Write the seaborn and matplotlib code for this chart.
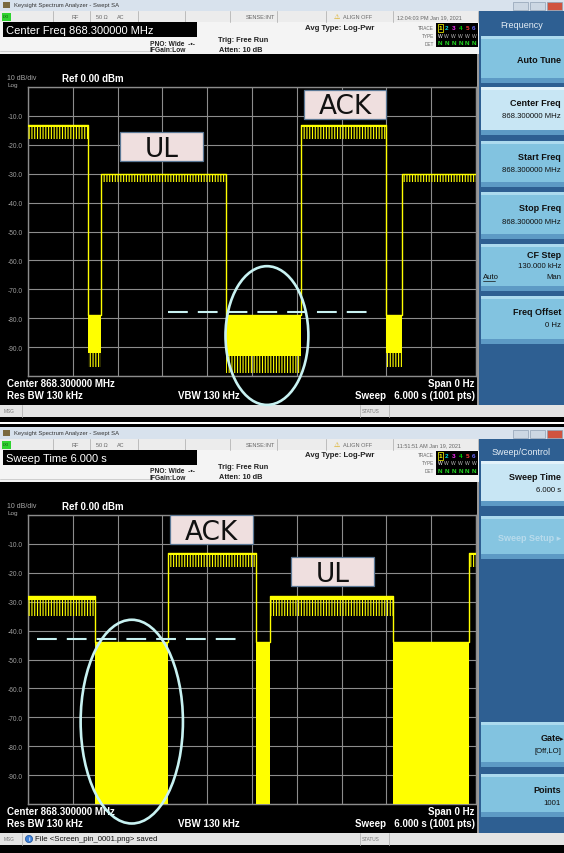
import numpy as np
import pandas as pd
import matplotlib
matplotlib.use("Agg")
import matplotlib.pyplot as plt
import seaborn as sns
from matplotlib.patches import Rectangle, Ellipse, Circle

# Two zero-span captures at 868.3 MHz, 6 s sweep, levels in dBm.
# Per segment: start/end time, top of trace, bottom of dense part, deepest dips
top_edges = [0.0, 0.80, 0.98, 2.65, 3.65, 4.80, 5.01, 6.0]
top_peak = [-13, -79, -30, -79, -13, -79, -30]
top_solid = [-14, -92, -30.5, -93, -14, -92, -30.5]
top_dip = [-18, -97, -33, -99, -18, -97, -33]

bot_edges = [0.0, 0.90, 1.87, 3.05, 3.24, 4.89, 5.90, 6.0]
bot_peak = [-28, -44, -13, -44, -28, -44, -13]
bot_solid = [-29.5, -100, -14, -100, -29.5, -100, -14]
bot_dip = [-35, -100, -18, -100, -35, -100, -18]

# hand drawn markings on the screenshots
top_ref_level = -78
top_ref_span = [1.87, 4.55]
bot_ref_level = -43
bot_ref_span = [0.12, 2.81]
top_circle = [3.20, -86, 1.11, 48]      # centre s, centre dB, width s, height dB
bot_circle = [1.39, -71.5, 1.37, 70.5]
top_tags = [("UL", 1.79, -20.6), ("ACK", 4.245, -5.9)]
bot_tags = [("ACK", 2.46, -5.0), ("UL", 4.08, -19.6)]

db_ticks = list(range(-100, 1, 10))
db_labels = ["" if v in (0, -100) else f"{v:.1f}" for v in db_ticks]
time_ticks = np.linspace(0, 6, 11)

YELLOW = "#ffff00"
MARK = "#c8f2f2"
W, H = 564, 854

sns.set_style("dark")
plt.rcParams["font.family"] = ["Liberation Sans", "DejaVu Sans"]
plt.rcParams["hatch.linewidth"] = 0.8

fig = plt.figure(figsize=(W / 100, H / 100), dpi=100)
fig.patch.set_facecolor("black")
ui = fig.add_axes([0, 0, 1, 1])
ui.set_xlim(0, W)
ui.set_ylim(H, 0)
ui.axis("off")


def rect(x, y, w, h, fc, ec="none", lw=0, z=1):
    ui.add_patch(Rectangle((x, y), w, h, facecolor=fc, edgecolor=ec, linewidth=lw, zorder=z))


def txt(x, y, s, size=5, color="black", ha="left", weight="normal", z=3, **kw):
    ui.text(x, y, s, fontsize=size, color=color, ha=ha, va="center",
            fontweight=weight, zorder=z, **kw)


def vline(x, y1, y2, color="#b4b4b4", lw=0.6):
    ui.plot([x, x], [y1, y2], color=color, lw=lw, zorder=2)


def button(y0, top, bot, title, value, state):
    fc = {"on": "#c8e6f4", "off": "#82c3e0", "dim": "#86c5e1"}[state]
    rect(481, y0 + top, 83, bot - top, fc)
    rect(481, y0 + top, 83, 3, "#e2f2fa" if state == "on" else "#acdaee")
    rect(481, y0 + bot - 5, 83, 5, "#5d9ac5")
    if state == "dim":
        txt(561, y0 + (top + bot) / 2, title, 6.5, "#b8dbec", ha="right", weight="bold")
    elif title == "CF Step":
        txt(561, y0 + top + 11, title, 6.5, "#111111", ha="right", weight="bold")
        txt(561, y0 + top + 22, value, 5.6, "#111111", ha="right")
        txt(483, y0 + top + 33, "Auto", 5.6, "#111111", ha="left")
        ui.plot([483, 495], [y0 + top + 37, y0 + top + 37], color="#111111", lw=0.5, zorder=3)
        txt(561, y0 + top + 33, "Man", 5.6, "#111111", ha="right")
    elif value:
        txt(561, y0 + top + 15.5, title, 6.5, "#111111", ha="right", weight="bold")
        txt(561, y0 + top + 29, value, 5.6, "#111111", ha="right")
    else:
        txt(561, y0 + (top + bot) / 2, title, 6.5, "#111111", ha="right", weight="bold")


def draw_chrome(y0, header, clock, panel_title, menu, message):
    # window title bar
    rect(0, y0, W, 12, "#d8e2ed")
    rect(3, y0 + 3, 7, 6, "#7a6a40")
    txt(14, y0 + 6, "Keysight Spectrum Analyzer - Swept SA", 4.2, "#333333")
    for i, c in enumerate(["#ccd7e3", "#ccd7e3", "#d0533f"]):
        rect(513 + i * 17, y0 + 3, 15, 8, c, ec="#8fa0b4", lw=0.5)
    # status row
    rect(0, y0 + 12, 479, 11, "#ececec")
    for xs in [53, 90, 138, 185, 230, 277, 326, 393, 478]:
        vline(xs, y0 + 12, y0 + 23)
    rect(2, y0 + 13.5, 9, 8, "#2fd32f")
    txt(3, y0 + 17.5, "LXI", 2.8, "#114411")
    for xs, s in [(72, "RF"), (96, "50 Ω"), (117, "AC"), (246, "SENSE:INT"),
                  (343, "ALIGN OFF"), (397, clock)]:
        txt(xs, y0 + 17.5, s, 4, "#666666")
    txt(334, y0 + 17.3, "⚠", 5, "#d9a400", family="DejaVu Sans")
    # settings area
    rect(0, y0 + 23, 479, 32, "#f4f4f4")
    ui.plot([0, 150], [y0 + 52, y0 + 52], color="#c8c8c8", lw=0.6, zorder=2)
    rect(3, y0 + 23, 194, 15, "black", z=2)
    txt(6, y0 + 31, header, 8, "white")
    txt(150, y0 + 44, "PNO: Wide  -•-", 4.8, "#222222", weight="bold")
    txt(150, y0 + 51, "IFGain:Low", 4.8, "#222222", weight="bold")
    txt(218, y0 + 40, "Trig: Free Run", 5.3, "#222222", weight="bold")
    txt(219, y0 + 50, "Atten: 10 dB", 5.3, "#222222", weight="bold")
    txt(305, y0 + 28, "Avg Type: Log-Pwr", 5.6, "#222222", weight="bold")
    for yy, s in [(28, "TRACE"), (36, "TYPE"), (44, "DET")]:
        txt(434, y0 + yy, s, 3.4, "#666666", ha="right")
    rect(436, y0 + 24, 42, 24, "black", z=2)
    colors = ["#ffff00", "#00e0e0", "#ff30ff", "#00d000", "#ff3a3a", "#6a6aff"]
    for i, c in enumerate(colors):
        xs = 440 + i * 6.8
        txt(xs, y0 + 28.5, str(i + 1), 4.6, c, ha="center", weight="bold")
        txt(xs, y0 + 36, "W", 3.6, "white" if i == 0 else "#bbbbbb", ha="center")
        txt(xs, y0 + 43.5, "N", 4.6, "#22dd22", ha="center", weight="bold")
    rect(437.5, y0 + 25, 5, 7.5, "none", ec="#dddd00", lw=0.6, z=3)
    # display texts
    txt(7, y0 + 79, "10 dB/div", 5, "#a8a8a8")
    txt(62, y0 + 79, "Ref 0.00 dBm", 7, "white", weight="bold")
    txt(8, y0 + 86, "Log", 4.6, "#a8a8a8")
    txt(7, y0 + 384, "Center 868.300000 MHz", 7, "white", weight="bold")
    txt(7, y0 + 396, "Res BW 130 kHz", 7, "white", weight="bold")
    txt(178, y0 + 396, "VBW 130 kHz", 7, "white", weight="bold")
    txt(475, y0 + 384, "Span 0 Hz", 7, "white", ha="right", weight="bold")
    txt(475, y0 + 396, "Sweep   6.000 s (1001 pts)", 7, "white", ha="right", weight="bold")
    rect(477, y0 + 55, 2, 351, "#9a9a9a")
    # soft key panel
    rect(479, y0 + 12, 85, 394, "#2e5f92")
    txt(521.5, y0 + 25, panel_title, 6.5, "#e4edf5", ha="center")
    for top, bot, title, value, state in menu:
        button(y0, top, bot, title, value, state)
    # message bar
    rect(0, y0 + 406, W, 12, "#e4e4e4")
    txt(4, y0 + 412, "MSG", 3.4, "#777777")
    vline(22, y0 + 406, y0 + 418)
    vline(360, y0 + 406, y0 + 418)
    vline(389, y0 + 406, y0 + 418)
    txt(362, y0 + 412, "STATUS", 3.4, "#777777")
    if message:
        ui.add_patch(Circle((29, y0 + 412), 3.6, facecolor="#3d7fd6", edgecolor="#1d4f96",
                            lw=0.5, zorder=3))
        txt(29, y0 + 412, "i", 4, "white", ha="center", weight="bold", z=4)
        txt(35, y0 + 412, message, 5.6, "#111111")


def draw_trace(y0, edges, peak, solid, dip, ref_level, ref_span, circle, tags):
    ax = fig.add_axes([28 / W, 1 - (y0 + 377) / H, 448 / W, 289 / H])
    ax.set_facecolor("black")
    for t0, t1, p, s, d in zip(edges[:-1], edges[1:], peak, solid, dip):
        ax.fill_between([t0, t1], p, s, color=YELLOW, lw=0, zorder=3)
        ax.fill_between([t0, t1], s, d, facecolor="none", edgecolor=YELLOW,
                        hatch="||||||", lw=0, zorder=3)
    frame = pd.DataFrame({"time": edges, "level": list(peak) + [peak[-1]]})
    sns.lineplot(data=frame, x="time", y="level", drawstyle="steps-post", color=YELLOW,
                 lw=1, estimator=None, ax=ax, zorder=4)
    ax.plot(ref_span, [ref_level, ref_level], color=MARK, lw=1.5,
            linestyle=(0, (9.5, 4.8)), zorder=5)
    ax.add_patch(Ellipse((circle[0], circle[1]), circle[2], circle[3], fill=False,
                         edgecolor=MARK, lw=1.9, clip_on=False, zorder=6))
    for name, tx, ty in tags:
        ax.add_patch(Rectangle((tx - 0.555, ty - 5), 1.11, 10, facecolor="#efdfdf",
                               edgecolor="#5b7896", lw=0.9, zorder=7))
        ax.text(tx, ty - 0.8, name, fontsize=19, family="DejaVu Sans", color="#111111",
                ha="center", va="center", zorder=8)
    ax.set_xlim(0, 6)
    ax.set_ylim(-100, 0)
    ax.set_xticks(time_ticks)
    ax.set_yticks(db_ticks)
    ax.set_yticklabels(db_labels)
    ax.tick_params(axis="x", labelbottom=False, length=0)
    ax.tick_params(axis="y", labelsize=4.8, labelcolor="#a0a0a0", length=0, pad=4)
    ax.grid(True, color="#8c8c8c", lw=0.8)
    ax.set_axisbelow(True)
    for sp in ax.spines.values():
        sp.set_color("#8c8c8c")
        sp.set_linewidth(1)
    ax.set_xlabel("")
    ax.set_ylabel("")


top_menu = [
    (37, 84, "Auto Tune", "", "off"),
    (88, 136, "Center Freq", "868.300000 MHz", "on"),
    (142, 188, "Start Freq", "868.300000 MHz", "off"),
    (193, 240, "Stop Freq", "868.300000 MHz", "off"),
    (245, 292, "CF Step", "130.000 kHz", "off"),
    (297, 345, "Freq Offset", "0 Hz", "off"),
]
bot_menu = [
    (34, 79, "Sweep Time", "6.000 s", "on"),
    (89, 132, "Sweep Setup ▸", "", "dim"),
    (295, 340, "Gate", "[Off,LO]", "off"),
    (347, 390, "Points", "1001", "off"),
]

draw_chrome(0, "Center Freq 868.300000 MHz", "12:04:03 PM Jan 19, 2021", "Frequency",
            top_menu, "")
draw_chrome(428, "Sweep Time 6.000 s", "11:51:51 AM Jan 19, 2021", "Sweep/Control",
            bot_menu, "File <Screen_pin_0001.png> saved")
rect(0, 423, W, 1.5, "white")
txt(563, 428 + 311, "▸", 5, "#111111", ha="right", family="DejaVu Sans")

draw_trace(0, top_edges, top_peak, top_solid, top_dip, top_ref_level, top_ref_span,
           top_circle, top_tags)
draw_trace(428, bot_edges, bot_peak, bot_solid, bot_dip, bot_ref_level, bot_ref_span,
           bot_circle, bot_tags)

fig.savefig("out.png", dpi=100, facecolor=fig.get_facecolor())
